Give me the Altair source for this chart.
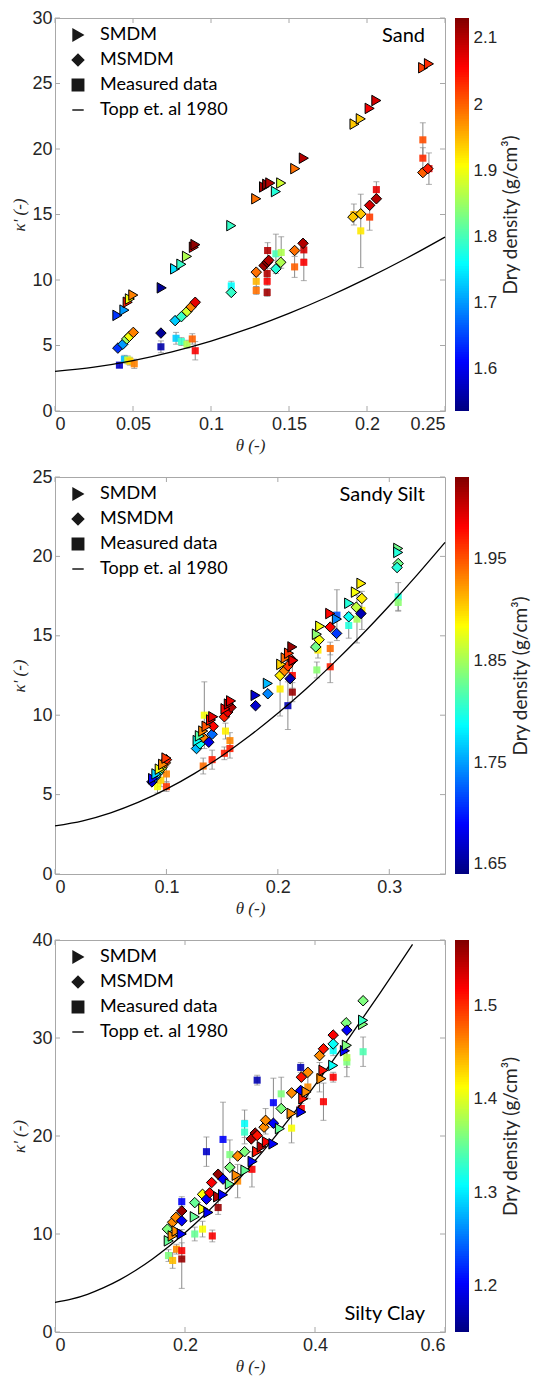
import altair as alt
import numpy as np
import pandas as pd

# ---------------- colour map (jet) ----------------
JET = ["#00007F", "#0000FF", "#007FFF", "#00FFFF", "#7FFF7F",
       "#FFFF00", "#FF7F00", "#FF0000", "#7F0000"]

KINDS = ["SMDM", "MSMDM", "Measured data", "Topp et. al 1980"]
SHAPES = ["triangle-right", "diamond", "square", "stroke"]

# ---------------- Topp et al. (1980) curve, read points ----------------
TOPP_THETA = [0, 0.025, 0.05, 0.075, 0.1, 0.125, 0.15, 0.175, 0.2, 0.225, 0.25,
              0.275, 0.3, 0.325, 0.35, 0.375, 0.4, 0.425, 0.45, 0.475, 0.5, 0.525, 0.55]
TOPP_KAPPA = [3.03, 3.35, 3.85, 4.52, 5.34, 6.32, 7.45, 8.72, 10.12, 11.64, 13.28,
              15.03, 16.89, 18.84, 20.88, 22.99, 25.20, 27.47, 29.79, 32.17, 34.59, 37.06, 39.55]

# ---------------- Sand ----------------
SAND_SMDM_THETA = [0.040, 0.0445, 0.0466, 0.048, 0.0502, 0.0684, 0.077, 0.081, 0.0846, 0.089, 0.090,
                   0.113, 0.129, 0.134, 0.136, 0.138, 0.1416, 0.145, 0.154, 0.1595,
                   0.192, 0.196, 0.2017, 0.206, 0.236, 0.2397]
SAND_SMDM_KAPPA = [7.3, 7.7, 8.3, 8.55, 8.85, 9.4, 10.85, 11.2, 11.8, 12.5, 12.7,
                   14.15, 16.2, 17.1, 17.3, 17.4, 16.75, 17.4, 18.5, 19.3,
                   21.9, 22.3, 23.1, 23.7, 26.2, 26.5]
SAND_SMDM_RHO = [1.64, 1.70, 2.04, 1.90, 1.98, 1.55, 1.74, 1.79, 1.86, 2.07, 2.12,
                 1.79, 1.99, 2.11, 2.12, 2.10, 1.78, 1.88, 1.99, 2.10,
                 1.94, 1.94, 2.06, 2.08, 2.02, 2.03]

SAND_MS_THETA = [0.0403, 0.0435, 0.046, 0.0477, 0.0502, 0.0679, 0.077, 0.081, 0.0846, 0.0873, 0.0899,
                 0.113, 0.129, 0.134, 0.136, 0.137, 0.1416, 0.1447, 0.1536, 0.159,
                 0.191, 0.196, 0.2017, 0.206, 0.2358, 0.239]
SAND_MS_KAPPA = [4.8, 5.1, 5.5, 5.7, 6.0, 5.95, 6.9, 7.2, 7.6, 7.95, 8.3,
                 9.05, 10.6, 11.1, 11.35, 11.5, 10.85, 11.35, 12.25, 12.8,
                 14.8, 15.05, 15.7, 16.2, 18.2, 18.5]
SAND_MS_RHO = [1.64, 1.70, 1.85, 1.90, 1.98, 1.55, 1.73, 1.79, 1.88, 1.98, 2.07,
               1.79, 1.99, 2.11, 2.12, 2.10, 1.78, 1.86, 1.99, 2.10,
               1.94, 1.94, 2.08, 2.10, 2.00, 2.04]

SAND_MEAS_THETA = [0.0413, 0.0445, 0.0466, 0.048, 0.0508, 0.0679, 0.0776, 0.081, 0.0846, 0.088, 0.0899,
                   0.113, 0.129, 0.129, 0.1363, 0.136, 0.136, 0.136, 0.1416, 0.145, 0.1536, 0.1595, 0.1595,
                   0.1916, 0.196, 0.2017, 0.206, 0.2358, 0.2358, 0.2397]
SAND_MEAS_KAPPA = [3.5, 3.95, 3.9, 3.8, 3.6, 4.9, 5.55, 5.3, 5.1, 5.5, 4.6,
                   9.55, 9.9, 9.2, 12.25, 10.5, 9.9, 9.05, 12.0, 12.1, 11.0, 12.3, 11.35,
                   15.0, 13.75, 14.8, 16.9, 20.7, 19.3, 18.5]
SAND_MEAS_ERR = [0.2, 0.3, 0.3, 0.3, 0.35, 0.45, 0.45, 0.3, 0.3, 0.4, 0.7,
                 0.35, 0.4, 0.3, 0.6, 0.4, 0.3, 0.3, 1.5, 1.2, 0.8, 0.7, 1.4,
                 0.8, 2.8, 1.0, 0.6, 1.3, 0.8, 1.2]
SAND_MEAS_RHO = [1.58, 1.72, 1.88, 1.93, 1.98, 1.56, 1.73, 1.79, 1.86, 2.00, 2.06,
                 1.76, 1.95, 1.99, 2.10, 2.10, 2.06, 2.11, 1.80, 1.86, 2.00, 2.08, 2.06,
                 1.95, 1.92, 2.02, 2.07, 2.01, 2.03, 2.07]

# ---------------- Sandy Silt ----------------
SILT_SMDM_THETA = [0.088, 0.091, 0.094, 0.097, 0.100, 0.128, 0.130, 0.133, 0.136, 0.140, 0.142,
                   0.153, 0.156, 0.158, 0.180, 0.191, 0.203, 0.207, 0.210, 0.213, 0.214,
                   0.235, 0.238, 0.247, 0.253, 0.264, 0.270, 0.275, 0.308, 0.308]
SILT_SMDM_KAPPA = [6.0, 6.3, 6.6, 6.9, 7.3, 8.4, 8.7, 9.0, 9.3, 9.7, 9.9,
                   10.4, 10.7, 10.9, 11.25, 12.0, 13.2, 13.6, 13.9, 14.3, 13.45,
                   15.1, 15.6, 16.4, 16.05, 17.05, 17.75, 18.3, 20.5, 20.25]
SILT_SMDM_RHO = [1.69, 1.77, 1.88, 1.93, 1.96, 1.79, 1.82, 1.93, 1.95, 1.98, 1.99,
                 1.98, 2.01, 1.99, 1.67, 1.76, 1.90, 1.94, 1.96, 2.02, 1.99,
                 1.84, 1.88, 1.98, 1.74, 1.80, 1.88, 1.89, 1.83, 1.80]

SILT_MS_THETA = [0.087, 0.090, 0.093, 0.096, 0.099, 0.100, 0.127, 0.130, 0.133, 0.138, 0.141, 0.142,
                 0.152, 0.155, 0.158, 0.180, 0.191, 0.202, 0.206, 0.209, 0.211, 0.213,
                 0.234, 0.237, 0.247, 0.2527, 0.2636, 0.2704, 0.2746, 0.2754, 0.308, 0.307]
SILT_MS_KAPPA = [5.8, 6.1, 6.4, 6.7, 7.0, 7.2, 7.9, 8.2, 8.6, 8.3, 8.8, 9.3,
                 9.9, 10.2, 10.5, 10.6, 11.35, 12.5, 12.8, 13.1, 12.3, 13.45,
                 14.3, 14.75, 15.55, 15.15, 16.2, 16.8, 16.4, 17.35, 19.55, 19.3]
SILT_MS_RHO = [1.67, 1.73, 1.81, 1.87, 1.94, 1.97, 1.76, 1.79, 1.93, 1.68, 1.73, 1.98,
               1.97, 1.99, 2.01, 1.67, 1.74, 1.89, 1.93, 1.96, 1.66, 2.02,
               1.83, 1.88, 1.98, 1.71, 1.79, 1.86, 1.66, 1.89, 1.83, 1.80]

SILT_MEAS_THETA = [0.092, 0.095, 0.100, 0.100, 0.134, 0.133, 0.141, 0.153, 0.157, 0.152, 0.157,
                   0.202, 0.213, 0.213, 0.209, 0.236, 0.235, 0.247, 0.247, 0.253,
                   0.2636, 0.271, 0.2754, 0.308, 0.308]
SILT_MEAS_KAPPA = [5.5, 5.9, 6.3, 5.5, 10.0, 6.8, 7.2, 9.0, 8.4, 7.6, 7.9,
                   11.65, 12.5, 11.45, 10.6, 14.1, 12.85, 14.2, 13.05, 16.3,
                   15.65, 16.05, 16.6, 17.45, 17.1]
SILT_MEAS_ERR = [0.4, 0.4, 0.5, 0.3, 2.1, 0.5, 0.6, 0.5, 0.5, 0.4, 0.6,
                 1.7, 0.8, 0.6, 1.5, 0.5, 0.5, 0.4, 1.0, 1.6,
                 0.8, 1.5, 1.2, 0.9, 0.5]
SILT_MEAS_RHO = [1.88, 1.90, 1.93, 1.96, 1.88, 1.94, 1.97, 1.89, 1.93, 1.97, 1.97,
                 1.89, 1.98, 2.02, 1.66, 1.89, 1.84, 1.94, 1.97, 1.72,
                 1.80, 1.85, 1.89, 1.80, 1.84]

# ---------------- Silty Clay ----------------
CLAY_SMDM_THETA = [0.175, 0.181, 0.187, 0.195, 0.215, 0.228, 0.236, 0.251, 0.2585, 0.269,
                   0.2795, 0.293, 0.304, 0.311, 0.318, 0.326, 0.336, 0.346, 0.364, 0.379,
                   0.382, 0.387, 0.410, 0.413, 0.428, 0.446, 0.449, 0.474, 0.474]
CLAY_SMDM_KAPPA = [9.3, 9.8, 10.3, 10.0, 11.75, 12.55, 12.2, 13.8, 14.0, 15.1,
                   16.0, 16.5, 17.4, 18.4, 18.9, 19.4, 19.2, 20.75, 22.3, 22.45,
                   23.8, 24.5, 25.85, 26.7, 27.2, 28.7, 29.25, 31.4, 31.8]
CLAY_SMDM_RHO = [1.35, 1.46, 1.46, 1.20, 1.35, 1.41, 1.20, 1.55, 1.20, 1.35,
                 1.46, 1.35, 1.20, 1.51, 1.55, 1.52, 1.20, 1.35, 1.46, 1.20,
                 1.51, 1.46, 1.46, 1.51, 1.31, 1.20, 1.36, 1.36, 1.33]

CLAY_MS_THETA = [0.173, 0.181, 0.186, 0.195, 0.195, 0.215, 0.227, 0.233, 0.238, 0.241,
                 0.251, 0.2585, 0.269, 0.281, 0.2917, 0.302, 0.308, 0.311, 0.3216, 0.324,
                 0.336, 0.348, 0.364, 0.378, 0.379, 0.389, 0.407, 0.413, 0.428, 0.428,
                 0.448, 0.449, 0.474]
CLAY_MS_KAPPA = [10.5, 11.2, 11.7, 11.35, 12.35, 13.2, 14.05, 13.55, 14.2, 15.25,
                 16.1, 15.6, 16.8, 17.95, 18.4, 19.7, 20.3, 20.05, 20.9, 21.6,
                 21.3, 22.8, 24.4, 24.65, 26.0, 26.5, 28.2, 28.9, 30.3, 29.4,
                 31.55, 30.8, 33.8]
CLAY_MS_RHO = [1.36, 1.46, 1.46, 1.20, 1.56, 1.35, 1.41, 1.20, 1.52, 1.52,
               1.56, 1.20, 1.36, 1.46, 1.36, 1.55, 1.56, 1.51, 1.46, 1.46,
               1.20, 1.36, 1.46, 1.20, 1.51, 1.46, 1.46, 1.51, 1.52, 1.31,
               1.36, 1.20, 1.36]

CLAY_MEAS_THETA = [0.1746, 0.181, 0.187, 0.195, 0.195, 0.195, 0.215, 0.227, 0.233, 0.242,
                   0.251, 0.2585, 0.269, 0.281, 0.2917, 0.2917, 0.303, 0.311, 0.324, 0.336,
                   0.348, 0.364, 0.378, 0.379, 0.389, 0.407, 0.413, 0.428, 0.428, 0.449,
                   0.449, 0.474]
CLAY_MEAS_KAPPA = [7.8, 7.3, 8.45, 13.3, 8.3, 7.45, 10.0, 10.5, 18.4, 9.8,
                   12.7, 19.65, 18.1, 15.4, 21.25, 20.4, 16.6, 25.7, 21.5, 23.4,
                   24.3, 20.8, 27.0, 22.8, 25.0, 26.0, 23.5, 26.0, 28.7, 27.55,
                   28.0, 28.6]
CLAY_MEAS_ERR = [0.6, 0.8, 0.5, 0.5, 0.8, 3.0, 0.7, 0.8, 1.5, 0.6,
                 0.7, 3.8, 1.5, 1.7, 1.4, 1.2, 1.8, 0.5, 1.3, 2.5,
                 1.7, 1.5, 0.5, 0.5, 1.2, 1.5, 1.9, 0.5, 0.5, 1.5,
                 1.0, 1.5]
CLAY_MEAS_RHO = [1.36, 1.44, 1.46, 1.20, 1.52, 1.56, 1.35, 1.41, 1.18, 1.52,
                 1.56, 1.20, 1.36, 1.46, 1.31, 1.33, 1.52, 1.17, 1.46, 1.20,
                 1.36, 1.41, 1.17, 1.52, 1.46, 1.46, 1.52, 1.52, 1.31, 1.36,
                 1.38, 1.34]

PANELS = [
    dict(name="Sand", W=390, H=393, xmax=0.25, xticks=[0, 0.05, 0.1, 0.15, 0.2, 0.25],
         ymax=30, yticks=[0, 5, 10, 15, 20, 25, 30], dmin=1.536, dmax=2.13,
         dticks=[1.6, 1.7, 1.8, 1.9, 2.0, 2.1], label_top=True,
         sm=(SAND_SMDM_THETA, SAND_SMDM_KAPPA, SAND_SMDM_RHO),
         ms=(SAND_MS_THETA, SAND_MS_KAPPA, SAND_MS_RHO),
         me=(SAND_MEAS_THETA, SAND_MEAS_KAPPA, SAND_MEAS_ERR, SAND_MEAS_RHO)),
    dict(name="Sandy Silt", W=390, H=397, xmax=0.35, xticks=[0, 0.1, 0.2, 0.3],
         ymax=25, yticks=[0, 5, 10, 15, 20, 25], dmin=1.64, dmax=2.03,
         dticks=[1.65, 1.75, 1.85, 1.95], label_top=True,
         sm=(SILT_SMDM_THETA, SILT_SMDM_KAPPA, SILT_SMDM_RHO),
         ms=(SILT_MS_THETA, SILT_MS_KAPPA, SILT_MS_RHO),
         me=(SILT_MEAS_THETA, SILT_MEAS_KAPPA, SILT_MEAS_ERR, SILT_MEAS_RHO)),
    dict(name="Silty Clay", W=390, H=392, xmax=0.6, xticks=[0, 0.2, 0.4, 0.6],
         ymax=40, yticks=[0, 10, 20, 30, 40], dmin=1.15, dmax=1.57,
         dticks=[1.2, 1.3, 1.4, 1.5], label_top=False,
         sm=(CLAY_SMDM_THETA, CLAY_SMDM_KAPPA, CLAY_SMDM_RHO),
         ms=(CLAY_MS_THETA, CLAY_MS_KAPPA, CLAY_MS_RHO),
         me=(CLAY_MEAS_THETA, CLAY_MEAS_KAPPA, CLAY_MEAS_ERR, CLAY_MEAS_RHO)),
]

GRAY = "#8a8a8a"
FRAME = "#a8a8a8"


def make_panel(p):
    W, H = p["W"], p["H"]
    xs = alt.Scale(domain=[0, p["xmax"]], nice=False, zero=False)
    ys = alt.Scale(domain=[0, p["ymax"]], nice=False, zero=False)
    cdom = [float(v) for v in np.linspace(p["dmin"], p["dmax"], len(JET))]
    cs = alt.Scale(domain=cdom, range=JET, interpolate="rgb")
    ss = alt.Scale(domain=KINDS, range=SHAPES)

    xaxis = alt.Axis(values=p["xticks"], format=".2~f", title="θ (-)", titleFontStyle="italic",
                     labelPadding=4, titlePadding=4)
    yaxis = alt.Axis(values=p["yticks"], format=".2~f", title="κ' (-)", titleFontStyle="italic",
                     labelPadding=3, titlePadding=3)
    legend = alt.Legend(orient="none", legendX=14, legendY=8, title=None, padding=0,
                        labelFont="Lato", labelFontSize=18, labelColor="black", labelOffset=13,
                        symbolSize=130, symbolFillColor="black", symbolStrokeColor="black",
                        symbolStrokeWidth=1.5, rowPadding=7)

    X = lambda f: alt.X(f, scale=xs, axis=xaxis)
    Y = lambda f: alt.Y(f, scale=ys, axis=yaxis)
    C = alt.Color("rho:Q", scale=cs, legend=None)
    S = alt.Shape("kind:N", scale=ss, legend=legend)

    sm = pd.DataFrame({"theta": p["sm"][0], "kappa": p["sm"][1], "rho": p["sm"][2], "kind": "SMDM"})
    ms = pd.DataFrame({"theta": p["ms"][0], "kappa": p["ms"][1], "rho": p["ms"][2], "kind": "MSMDM"})
    me = pd.DataFrame({"theta": p["me"][0], "kappa": p["me"][1], "err": p["me"][2],
                       "rho": p["me"][3], "kind": "Measured data"})
    me["lo"] = me["kappa"] - me["err"]
    me["hi"] = me["kappa"] + me["err"]

    tt = [t for t in TOPP_THETA if t <= p["xmax"] + 1e-9]
    topp = pd.DataFrame({"theta": tt, "kappa": TOPP_KAPPA[:len(tt)]})

    err_rule = alt.Chart(me).mark_rule(color=GRAY, strokeWidth=1).encode(
        x=X("theta:Q"), y=Y("lo:Q"), y2="hi:Q")
    cap_lo = alt.Chart(me).mark_tick(orient="horizontal", size=6, thickness=1, color=GRAY).encode(
        x=X("theta:Q"), y=Y("lo:Q"))
    cap_hi = alt.Chart(me).mark_tick(orient="horizontal", size=6, thickness=1, color=GRAY).encode(
        x=X("theta:Q"), y=Y("hi:Q"))
    meas = alt.Chart(me).mark_point(filled=True, size=50, opacity=0.9).encode(
        x=X("theta:Q"), y=Y("kappa:Q"), color=C, shape=S)
    line = alt.Chart(topp).mark_line(color="black", strokeWidth=1.3, interpolate="monotone").encode(
        x=X("theta:Q"), y=Y("kappa:Q"))
    msp = alt.Chart(ms).mark_point(filled=True, size=110, stroke="black", strokeWidth=1,
                                   opacity=1).encode(x=X("theta:Q"), y=Y("kappa:Q"), color=C, shape=S)
    smp = alt.Chart(sm).mark_point(filled=True, size=110, stroke="black", strokeWidth=1,
                                   opacity=1).encode(x=X("theta:Q"), y=Y("kappa:Q"), color=C, shape=S)

    xt = pd.DataFrame({"t": p["xticks"]})
    yt = pd.DataFrame({"t": p["yticks"]})
    tb = alt.Chart(xt).mark_rule(color=FRAME).encode(x=X("t:Q"), y=alt.value(H), y2=alt.value(H - 5))
    ttop = alt.Chart(xt).mark_rule(color=FRAME).encode(x=X("t:Q"), y=alt.value(0), y2=alt.value(5))
    tl = alt.Chart(yt).mark_rule(color=FRAME).encode(y=Y("t:Q"), x=alt.value(0), x2=alt.value(5))
    tr = alt.Chart(yt).mark_rule(color=FRAME).encode(y=Y("t:Q"), x=alt.value(W), x2=alt.value(W - 5))

    lab = alt.Chart(pd.DataFrame({"t": [p["name"]]})).mark_text(
        align="right", baseline="middle", font="Lato", fontSize=20, color="black").encode(
        text="t:N", x=alt.value(W - 20), y=alt.value(18 if p["label_top"] else H - 18))

    main = alt.layer(tb, ttop, tl, tr, err_rule, cap_lo, cap_hi, meas, line, msp, smp, lab).properties(
        width=W, height=H)

    # colour bar
    n = 160
    v = np.linspace(p["dmin"], p["dmax"], n + 1)
    cb = pd.DataFrame({"d": v[:-1], "d2": np.minimum(v[1:] + (v[1] - v[0]) * 0.6, p["dmax"]),
                       "rho": (v[:-1] + v[1:]) / 2})
    bar = alt.Chart(cb).mark_rect().encode(
        y=alt.Y("d:Q", scale=alt.Scale(domain=[p["dmin"], p["dmax"]], nice=False, zero=False),
                axis=alt.Axis(orient="right", values=p["dticks"], format=".2~f",
                              labelFontSize=17,
                              title="Dry density (g/cm³)", titleFont="Lato", titleFontSize=19,
                              titleFontStyle="normal", titleAngle=270, titleBaseline="top",
                              titlePadding=5, labelPadding=4)),
        y2="d2:Q",
        color=alt.Color("rho:Q", scale=cs, legend=None),
    ).properties(width=14, height=H, view=alt.ViewBackground(strokeOpacity=0))

    return alt.hconcat(main, bar, spacing=10, bounds="flush").resolve_scale(
        color="independent", shape="independent", y="independent")


chart = alt.vconcat(*[make_panel(p) for p in PANELS], spacing=13).resolve_scale(
    color="independent", shape="independent", x="independent", y="independent"
).properties(
    padding={"left": 2, "top": 0, "right": 0, "bottom": 2}
).configure_view(stroke=FRAME, strokeWidth=1).configure_axis(
    labelFont="Liberation Sans", labelFontSize=18, labelColor="#262626",
    titleFont="Liberation Serif", titleFontSize=17, titleFontWeight="normal", titleColor="#262626",
    grid=False, ticks=False, domain=False
)

chart.save("out.html", embed_options={"renderer": "svg", "actions": False})
